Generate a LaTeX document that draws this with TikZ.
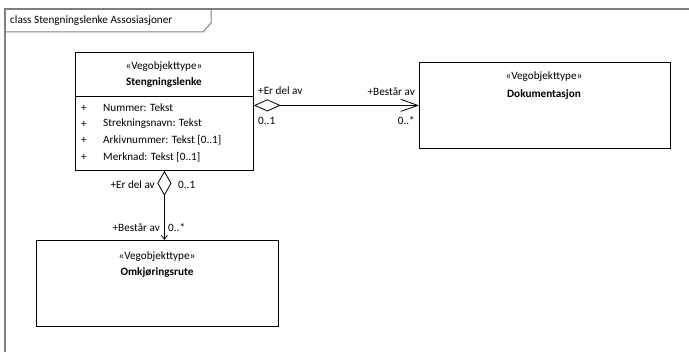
\documentclass[tikz,border=0pt]{standalone}
\usepackage{fontspec}
\setmainfont{Carlito}
\usetikzlibrary{arrows.meta}

\begin{document}
\begin{tikzpicture}[x=1pt,y=-1pt,
  klasse/.style={shape=rectangle,draw=black,line width=0.8pt,fill=white,anchor=north west,inner sep=0pt},
  tekst/.style={font=\fontsize{11.2}{13}\selectfont,inner sep=0pt},
  navn/.style={font=\fontsize{11.2}{13}\selectfont\bfseries,inner sep=0pt},
  assoc/.style={draw=black,line width=0.8pt}]
\useasboundingbox[fill=white] (0,0) rectangle (689,352);

% ramme
\draw[gray,line width=1.2pt] (5,352) -- (5,9) -- (689,9);
\draw[gray,line width=1pt] (5,32) -- (203,32) -- (211,23) -- (211,9);
\node[tekst,anchor=west] (ramme) at (10,21) {class Stengningslenke Assosiasjoner};

% klasser
\node[klasse,minimum width=178pt,minimum height=118pt] (0) at (75,52) {};
\draw[line width=0.8pt] (75,96) -- (253,96);
\node[tekst] (1) at (164,67) {«Vegobjekttype»};
\node[navn] (2) at (164,83) {Stengningslenke};
\node[tekst,anchor=west] (a1) at (81,108) {+};
\node[tekst,anchor=west] (a2) at (81,124) {+};
\node[tekst,anchor=west] (a3) at (81,140) {+};
\node[tekst,anchor=west] (a4) at (81,157) {+};
\node[tekst,anchor=west] (b1) at (103,108) {Nummer: Tekst};
\node[tekst,anchor=west] (b2) at (103,124) {Strekningsnavn: Tekst};
\node[tekst,anchor=west] (b3) at (103,140) {Arkivnummer: Tekst [0..1]};
\node[tekst,anchor=west] (b4) at (103,157) {Merknad: Tekst [0..1]};

\node[klasse,minimum width=251pt,minimum height=86pt] (3) at (419,62) {};
\node[tekst] (4) at (544,77) {«Vegobjekttype»};
\node[navn] (5) at (544,95) {Dokumentasjon};

\node[klasse,minimum width=242pt,minimum height=86pt] (6) at (36,240) {};
\node[tekst] (7) at (157,257) {«Vegobjekttype»};
\node[navn] (8) at (157,273) {Omkjøringsrute};

% assosiasjoner
\path [assoc,{Diamond[open,length=27pt,width=12pt]}-{Straight Barb[length=17pt,width=12pt]}] (0.east |- 3.west) -- (3.west);
\path [assoc,{Diamond[open,length=25pt,width=14pt]}-{Straight Barb[length=4pt,width=6pt]}] (0.south) -- (0.south |- 6.north);

\node[tekst,anchor=west] (c1) at (258,91) {+Er del av};
\node[tekst,anchor=west] (c2) at (258,121) {0..1};
\node[tekst,anchor=east] (c3) at (415,92) {+Består av};
\node[tekst,anchor=east] (c4) at (415,121) {0..*};

\node[tekst,anchor=east] (c5) at (155,185) {+Er del av};
\node[tekst,anchor=west] (c6) at (178,185) {0..1};
\node[tekst,anchor=east] (c7) at (160,228) {+Består av};
\node[tekst,anchor=west] (c8) at (168,228) {0..*};
\end{tikzpicture}
\end{document}
